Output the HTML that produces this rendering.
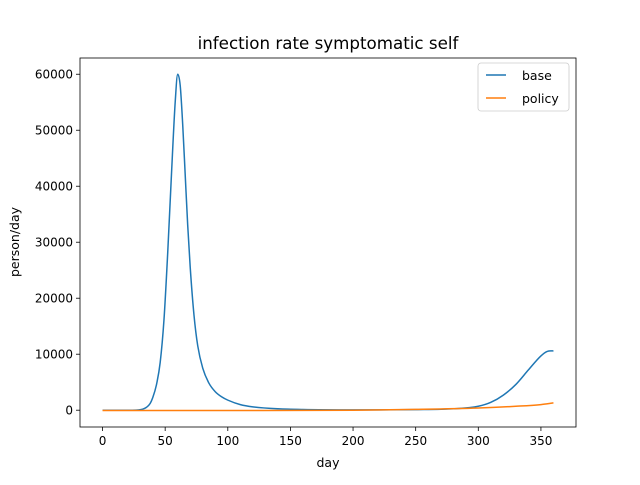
<!DOCTYPE html>
<html><head><meta charset="utf-8"><style>
body{margin:0;background:#fff;font-family:"Liberation Sans","DejaVu Sans",sans-serif;}
svg text{font-family:"DejaVu Sans","Liberation Sans",sans-serif;}
</style></head><body>
<svg id="chart" width="640" height="480" xmlns="http://www.w3.org/2000/svg">
<rect width="640" height="480" fill="#fff"/>
<text x="328" y="49" text-anchor="middle" font-size="16.7">infection rate symptomatic self</text>
<g id="plot"></g>
<rect x="80" y="58" width="496" height="369" fill="none" stroke="#000" stroke-width="0.8"/>
<text x="328" y="467" text-anchor="middle" font-size="12.5">day</text>
<text transform="translate(19,242) rotate(-90)" text-anchor="middle" font-size="12.5">person/day</text>
<g>
<rect x="478" y="63" width="91" height="48" rx="3" fill="#fff" stroke="#ccc" stroke-width="0.8"/>
<line x1="486" y1="75" x2="506" y2="75" stroke="#1f77b4" stroke-width="1.5"/>
<text x="522" y="80" font-size="12.5">base</text>
<line x1="486" y1="98" x2="506" y2="98" stroke="#ff7f0e" stroke-width="1.5"/>
<text x="522" y="103" font-size="12.5">policy</text>
</g>
</svg>
<script>
const baseDays=[0,20,28,32,35,38,40,43,46,49,52,55,58,60,62,64,66,68,70,73,76,80,85,90,95,100,110,120,140,160,200,250,280,300,310,320,330,340,350,355,360];
const baseVals=[0,0,40,180,500,1200,2200,4500,8500,16000,28000,42000,55000,60000,58000,51000,42000,33000,25500,17000,11500,7500,4800,3300,2400,1800,1000,600,250,120,60,100,250,700,1400,2700,4600,7200,9700,10500,10600];
const policyDays=[0,100,200,250,300,330,350,360];
const policyVals=[-50,-50,0,150,400,700,1000,1300];
const xTicks=[0,50,100,150,200,250,300,350];
const yTicks=[0,10000,20000,30000,40000,50000,60000];
const X0=80,X1=576,Y0=427,Y1=58,xmin=-18,xmax=378,ymin=-3000,ymax=62900;
const sx=d=>X0+(d-xmin)/(xmax-xmin)*(X1-X0);
const sy=v=>Y0-(v-ymin)/(ymax-ymin)*(Y0-Y1);
const NS="http://www.w3.org/2000/svg";
const g=document.getElementById('plot');
function mk(t,a){const e=document.createElementNS(NS,t);for(const k in a)e.setAttribute(k,a[k]);g.appendChild(e);return e;}
xTicks.forEach(t=>{
 const l=mk('line',{x1:sx(t),x2:sx(t),y1:Y0,y2:Y0+4,stroke:'#000','stroke-width':0.8});
 
 
 const tx=mk('text',{x:sx(t),y:Y0+18,'text-anchor':'middle','font-size':12});tx.textContent=t;
 
 
});
yTicks.forEach(t=>{
 const l=mk('line',{x1:X0-4,x2:X0,y1:sy(t),y2:sy(t),stroke:'#000','stroke-width':0.8});
 
 
 const tx=mk('text',{x:X0-7,y:sy(t)+4.5,'text-anchor':'end','font-size':12});tx.textContent=t;
 
 
});
function smoothPath(px,py){
 const n=px.length,d=[],m=[];
 for(let i=0;i<n-1;i++)d.push((py[i+1]-py[i])/(px[i+1]-px[i]));
 for(let i=0;i<n;i++){
  if(i===0)m.push(d[0]);else if(i===n-1)m.push(d[n-2]);
  else m.push(d[i-1]*d[i]<=0?0:(d[i-1]+d[i])/2);
 }
 let s='M'+px[0]+','+py[0];
 for(let i=0;i<n-1;i++){
  const h=(px[i+1]-px[i])/3;
  s+=' C'+(px[i]+h)+','+(py[i]+m[i]*h)+' '+(px[i+1]-h)+','+(py[i+1]-m[i+1]*h)+' '+px[i+1]+','+py[i+1];
 }
 return s;
}
function line(ds,vs,c,n){
 const p=mk('path',{d:smoothPath(ds.map(sx),vs.map(sy)),fill:'none',stroke:c,'stroke-width':1.5,'stroke-linejoin':'round'});
 
 
}
line(baseDays,baseVals,'#1f77b4','base-line');
line(policyDays,policyVals,'#ff7f0e','policy-line');
</script>
</body></html>
